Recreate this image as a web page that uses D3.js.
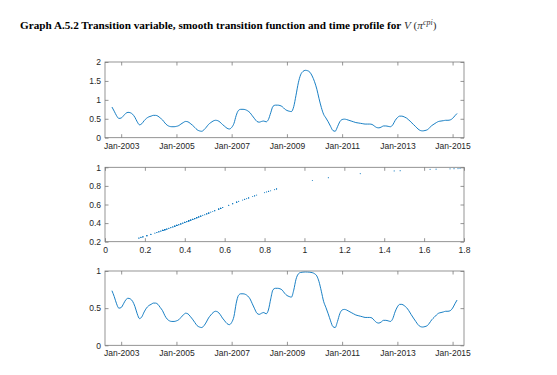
<!DOCTYPE html>
<html><head><meta charset="utf-8">
<script src="https://cdn.jsdelivr.net/npm/d3@7"></script>
<style>
body{margin:0;background:#fff;}
svg{display:block;}
</style></head>
<body>
<svg id="chart" width="557" height="375"></svg>
<script>
// Monthly observations, Sep-2002 .. Mar-2015
const startMonth = "2002-09";
// Transition variable V(pi^cpi)
const transitionVar = [
0.81,0.70,0.58,0.51,
0.52,0.58,0.64,0.67,0.66,0.62,0.54,0.42,0.34,0.37,0.45,0.51,
0.55,0.57,0.59,0.59,0.57,0.52,0.47,0.39,0.33,0.30,0.29,0.29,
0.30,0.32,0.36,0.40,0.43,0.42,0.38,0.33,0.27,0.21,0.18,0.17,
0.21,0.28,0.35,0.40,0.44,0.46,0.45,0.41,0.35,0.30,0.25,0.23,
0.27,0.38,0.58,0.72,0.75,0.75,0.74,0.71,0.66,0.58,0.50,0.43,
0.41,0.43,0.44,0.42,0.48,0.66,0.83,0.86,0.86,0.85,0.82,0.76,
0.72,0.70,0.69,0.82,1.12,1.45,1.66,1.75,1.78,1.77,1.73,1.63,
1.48,1.28,1.04,0.80,0.62,0.52,0.42,0.30,0.19,0.17,0.29,0.42,
0.48,0.49,0.48,0.46,0.44,0.42,0.40,0.39,0.38,0.37,0.36,0.36,
0.36,0.35,0.31,0.27,0.26,0.28,0.31,0.31,0.30,0.29,0.34,0.45,
0.53,0.57,0.57,0.55,0.52,0.47,0.41,0.35,0.29,0.23,0.19,0.18,
0.19,0.21,0.26,0.32,0.36,0.40,0.43,0.44,0.45,0.46,0.46,0.47,
0.51,0.58,0.64];
// Smooth transition function G (time profile)
const transitionFn = [
0.735,0.656,0.559,0.500,
0.508,0.559,0.609,0.633,0.625,0.592,0.525,0.424,0.359,0.383,0.449,0.500,
0.534,0.551,0.568,0.568,0.551,0.508,0.466,0.399,0.352,0.329,0.321,0.321,
0.329,0.344,0.375,0.408,0.432,0.424,0.391,0.352,0.307,0.265,0.246,0.239,
0.265,0.314,0.367,0.408,0.441,0.458,0.449,0.416,0.367,0.329,0.292,0.278,
0.307,0.391,0.559,0.671,0.693,0.693,0.686,0.664,0.625,0.559,0.491,0.432,
0.416,0.432,0.441,0.424,0.475,0.625,0.748,0.767,0.767,0.761,0.742,0.701,
0.671,0.656,0.648,0.742,0.888,0.961,0.980,0.985,0.987,0.986,0.984,0.978,
0.964,0.932,0.858,0.728,0.592,0.508,0.424,0.329,0.252,0.239,0.321,0.424,
0.475,0.483,0.475,0.458,0.441,0.424,0.408,0.399,0.391,0.383,0.375,0.375,
0.375,0.367,0.336,0.307,0.299,0.314,0.336,0.336,0.329,0.321,0.359,0.449,
0.517,0.551,0.551,0.534,0.508,0.466,0.416,0.367,0.321,0.278,0.252,0.246,
0.252,0.265,0.299,0.344,0.375,0.408,0.432,0.441,0.449,0.458,0.458,0.466,
0.500,0.559,0.609];
const timeTickYears = [2003,2005,2007,2009,2011,2013,2015];
const p1YTicks = [0,0.5,1,1.5,2];
const p2XTicks = [0,0.2,0.4,0.6,0.8,1,1.2,1.4,1.6,1.8];
const p2YTicks = [0.2,0.4,0.6,0.8,1];
const p3YTicks = [0,0.5,1];
const titleText = "Graph A.5.2 Transition variable, smooth transition function and time profile for ";

const svg = d3.select("#chart");
const lineColor = "#0072BD", axisColor = "#7a7a7a", textColor = "#262626";
const X0 = 105, X1 = 464;
const parse = d3.timeParse("%Y-%m");
const t0 = parse(startMonth);
const dates = transitionVar.map((_, i) => d3.timeMonth.offset(t0, i));

// Title
const title = svg.append("text").attr("x", 20).attr("y", 29)
  .attr("font-family", "'Liberation Serif','Times New Roman',serif")
  .attr("font-size", 11.2).attr("fill", "#000");
title.append("tspan").attr("font-weight", "bold").text(titleText);
title.append("tspan").attr("font-style", "italic").attr("fill", "#333").text("V");
title.append("tspan").attr("fill", "#333").text(" (");
title.append("tspan").attr("font-style", "italic").attr("fill", "#333").text("π");
title.append("tspan").attr("font-style", "italic").attr("fill", "#333").attr("font-size", 8).attr("dy", -4.5).text("cpi");
title.append("tspan").attr("fill", "#333").attr("dy", 4.5).text(")");

const xTime = d3.scaleTime().domain([new Date(2002, 5, 1), new Date(2015, 5, 1)]).range([X0, X1]);
const xVal = d3.scaleLinear().domain([0, 1.8]).range([X0, X1]);

function frame(g, x, y, xTicks, xFmt, yTicks, yFmt) {
  const [ya, yb] = y.range();
  const top = Math.min(ya, yb), bot = Math.max(ya, yb);
  const tl = 3.5;
  const axB = d3.axisBottom(x).tickValues(xTicks).tickFormat(xFmt).tickSizeInner(-tl).tickSizeOuter(0).tickPadding(5);
  const axT = d3.axisTop(x).tickValues(xTicks).tickFormat("").tickSizeInner(-tl).tickSizeOuter(0);
  const axL = d3.axisLeft(y).tickValues(yTicks).tickFormat(yFmt).tickSizeInner(-tl).tickSizeOuter(0).tickPadding(4);
  const axR = d3.axisRight(y).tickValues(yTicks).tickFormat("").tickSizeInner(-tl).tickSizeOuter(0);
  const style = sel => {
    sel.selectAll("path.domain").remove();
    sel.selectAll("line").attr("stroke", axisColor).attr("stroke-width", 0.8);
    sel.selectAll("text").attr("fill", textColor).attr("font-family", "'Liberation Sans',Arial,sans-serif").attr("font-size", 8.5);
  };
  g.append("g").attr("transform", `translate(0,${bot})`).call(axB).call(style);
  g.append("g").attr("transform", `translate(0,${top})`).call(axT).call(style);
  g.append("g").attr("transform", `translate(${X0},0)`).call(axL).call(style);
  g.append("g").attr("transform", `translate(${X1},0)`).call(axR).call(style);
  g.append("rect").attr("x", X0).attr("y", top).attr("width", X1 - X0).attr("height", bot - top)
    .attr("fill", "none").attr("stroke", axisColor).attr("stroke-width", 0.8);
}

const timeTicks = timeTickYears.map(y => new Date(y, 0, 1));
const timeFmt = d3.timeFormat("Jan-%Y");
const numFmt = d => String(+d.toFixed(1));

// Panel 1
const y1 = d3.scaleLinear().domain([0, 2]).range([137.7, 62]);
const g1 = svg.append("g");
g1.append("path").datum(transitionVar)
  .attr("d", d3.line().x((d, i) => xTime(dates[i])).y(d => y1(d)).curve(d3.curveMonotoneX))
  .attr("fill", "none").attr("stroke", lineColor).attr("stroke-width", 0.9);
frame(g1, xTime, y1, timeTicks, timeFmt, p1YTicks, numFmt);

// Panel 2 scatter
const y2 = d3.scaleLinear().domain([0.2, 1]).range([241.7, 167.3]);
const g2 = svg.append("g");
g2.selectAll("circle").data(transitionVar.map((v, i) => [v, transitionFn[i]]))
  .join("circle").attr("cx", d => xVal(d[0])).attr("cy", d => y2(d[1])).attr("r", 0.6)
  .attr("fill", lineColor).attr("fill-opacity", 0.85);
frame(g2, xVal, y2, p2XTicks, numFmt, p2YTicks, numFmt);

// Panel 3
const y3 = d3.scaleLinear().domain([0, 1]).range([345.3, 271]);
const g3 = svg.append("g");
g3.append("path").datum(transitionFn)
  .attr("d", d3.line().x((d, i) => xTime(dates[i])).y(d => y3(d)).curve(d3.curveMonotoneX))
  .attr("fill", "none").attr("stroke", lineColor).attr("stroke-width", 0.9);
frame(g3, xTime, y3, timeTicks, timeFmt, p3YTicks, numFmt);
</script>
</body></html>
